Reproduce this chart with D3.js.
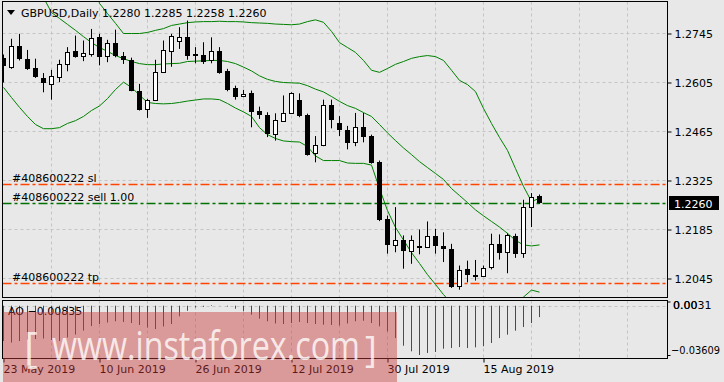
<!DOCTYPE html>
<html>
<head>
<meta charset="utf-8">
<script src="https://cdn.jsdelivr.net/npm/d3@7"></script>
<style>
  body { margin: 0; background: #e8e8e8; }
  svg { display: block; font-family: "DejaVu Sans", sans-serif; }
</style>
</head>
<body>
<svg id="chart" width="724" height="382"></svg>
<script>
'use strict';

// daily candles, GBPUSD, 23 May 2019 onwards
var opens = [1.2674,1.2649,1.2708,1.2673,1.2647,1.2618,1.2601,1.2622,1.2658,1.2694,
  1.2682,1.2687,1.2736,1.2682,1.2717,1.2682,1.2670,1.2582,1.2530,1.2554,
  1.2634,1.2696,1.2725,1.2734,1.2687,1.2685,1.2668,1.2694,1.2637,1.2588,
  1.2566,1.2576,1.2525,1.2511,1.2458,1.2496,1.2517,1.2554,1.2511,1.2404,
  1.2427,1.2541,1.2490,1.2470,1.2434,1.2479,1.2451,1.2377,1.2214,1.2142,
  1.2154,1.2123,1.2137,1.2134,1.2165,1.2139,1.2130,1.2023,1.2073,1.2056,
  1.2052,1.2077,1.2144,1.2120,1.2165,1.2118,1.2248,1.2280];
var highs = [1.2685,1.2730,1.2744,1.2698,1.2673,1.2632,1.2641,1.2670,1.2706,1.2739,
  1.2725,1.2758,1.2744,1.2727,1.2756,1.2692,1.2676,1.2601,1.2558,1.2670,
  1.2725,1.2744,1.2763,1.2782,1.2706,1.2720,1.2734,1.2706,1.2644,1.2596,
  1.2584,1.2582,1.2536,1.2520,1.2517,1.2568,1.2577,1.2574,1.2516,1.2452,
  1.2556,1.2556,1.2509,1.2481,1.2518,1.2518,1.2456,1.2382,1.2225,1.2249,
  1.2168,1.2168,1.2185,1.2208,1.2187,1.2177,1.2144,1.2082,1.2096,1.2098,
  1.2082,1.2173,1.2171,1.2174,1.2173,1.2270,1.2289,1.2285];
var lows = [1.2605,1.2644,1.2668,1.2641,1.2618,1.2577,1.2556,1.2606,1.2637,1.2676,
  1.2666,1.2679,1.2654,1.2663,1.2677,1.2658,1.2580,1.2525,1.2504,1.2552,
  1.2632,1.2650,1.2701,1.2670,1.2660,1.2658,1.2660,1.2630,1.2580,1.2556,
  1.2563,1.2477,1.2501,1.2449,1.2439,1.2494,1.2516,1.2506,1.2396,1.2377,
  1.2423,1.2474,1.2452,1.2414,1.2423,1.2434,1.2373,1.2209,1.2116,1.2120,
  1.2073,1.2087,1.2114,1.2132,1.2116,1.2092,1.2018,1.2013,1.2034,1.2039,
  1.2049,1.2071,1.2099,1.2060,1.2104,1.2104,1.2192,1.2258];
var closes = [1.2651,1.2708,1.2673,1.2644,1.2622,1.2603,1.2624,1.2658,1.2692,1.2677,
  1.2689,1.2733,1.2677,1.2717,1.2682,1.2668,1.2582,1.2527,1.2554,1.2634,
  1.2698,1.2739,1.2736,1.2682,1.2681,1.2663,1.2696,1.2632,1.2584,1.2565,
  1.2573,1.2520,1.2511,1.2458,1.2498,1.2517,1.2574,1.2508,1.2399,1.2427,
  1.2541,1.2498,1.2468,1.2432,1.2478,1.2449,1.2374,1.2211,1.2142,1.2154,
  1.2123,1.2156,1.2133,1.2165,1.2137,1.2128,1.2020,1.2070,1.2054,1.2049,
  1.2076,1.2144,1.2117,1.2168,1.2116,1.2249,1.2277,1.2260];

// bollinger bands
var bandUpper = [1.3231,1.3219,1.3214,1.3205,1.3199,1.3176,1.3136,1.3099,1.3054,1.3011,
  1.2965,1.2914,1.2831,1.2802,1.2774,1.2745,1.2745,1.2745,1.2748,1.2754,
  1.2759,1.2768,1.2772,1.2776,1.2778,1.2779,1.2779,1.2780,1.2779,1.2779,
  1.2778,1.2776,1.2775,1.2774,1.2772,1.2771,1.2770,1.2772,1.2779,1.2784,
  1.2777,1.2751,1.2719,1.2705,1.2691,1.2668,1.2640,1.2634,1.2645,1.2657,
  1.2665,1.2674,1.2679,1.2682,1.2679,1.2668,1.2640,1.2611,1.2599,1.2579,
  1.2531,1.2488,1.2448,1.2411,1.2359,1.2308,1.2265,1.2274];
var bandMiddle = [1.2965,1.2942,1.2919,1.2896,1.2874,1.2848,1.2805,1.2788,1.2771,1.2754,
  1.2736,1.2719,1.2705,1.2694,1.2682,1.2673,1.2665,1.2659,1.2656,1.2656,
  1.2658,1.2659,1.2660,1.2665,1.2666,1.2667,1.2668,1.2668,1.2665,1.2659,
  1.2649,1.2638,1.2624,1.2614,1.2608,1.2605,1.2604,1.2603,1.2596,1.2586,
  1.2578,1.2565,1.2551,1.2539,1.2531,1.2519,1.2508,1.2485,1.2461,1.2439,
  1.2418,1.2399,1.2379,1.2362,1.2345,1.2328,1.2302,1.2282,1.2262,1.2241,
  1.2224,1.2208,1.2192,1.2174,1.2154,1.2141,1.2138,1.2141];
var bandLower = [1.2591,1.2562,1.2534,1.2508,1.2485,1.2473,1.2473,1.2476,1.2488,1.2496,
  1.2508,1.2525,1.2538,1.2559,1.2585,1.2606,1.2591,1.2569,1.2548,1.2545,
  1.2544,1.2545,1.2548,1.2552,1.2555,1.2558,1.2558,1.2556,1.2545,1.2532,
  1.2521,1.2508,1.2476,1.2456,1.2445,1.2438,1.2436,1.2435,1.2422,1.2395,
  1.2382,1.2382,1.2382,1.2375,1.2374,1.2374,1.2369,1.2302,1.2239,1.2191,
  1.2155,1.2119,1.2088,1.2056,1.2028,1.1999,1.1974,1.1954,1.1939,1.1931,
  1.1931,1.1936,1.1948,1.1965,1.1979,1.1992,1.2012,1.2006];

// awesome oscillator
var aoValues = [-0.0259,-0.0270,-0.0259,-0.0248,-0.0244,-0.0240,-0.0251,-0.0259,-0.0233,-0.0211,
  -0.0182,-0.0149,-0.0134,-0.0123,-0.0114,-0.0119,-0.0127,-0.0141,-0.0160,-0.0171,
  -0.0152,-0.0134,-0.0078,-0.0037,-0.0013,-0.0008,0.0005,0.0001,-0.0006,-0.0022,
  -0.0041,-0.0066,-0.0095,-0.0114,-0.0130,-0.0134,-0.0127,-0.0119,-0.0127,-0.0134,
  -0.0139,-0.0141,-0.0145,-0.0130,-0.0114,-0.0110,-0.0127,-0.0151,-0.0188,-0.0237,
  -0.0293,-0.0334,-0.03609,-0.0346,-0.0339,-0.0315,-0.0310,-0.0303,-0.0310,-0.0305,
  -0.0297,-0.0273,-0.0237,-0.0212,-0.0183,-0.0156,-0.0127,-0.00835];
var aoMax = 0.0031, aoMin = -0.03609;

var priceTicks = [1.2745, 1.2605, 1.2465, 1.2325, 1.2185, 1.2045];
var dateIdx = [0, 12, 24, 36, 48, 60];
var dateLabels = ['23 May 2019', '10 Jun 2019', '26 Jun 2019', '12 Jul 2019', '30 Jul 2019', '15 Aug 2019'];

var orderId = '#408600222';
var slPrice = 1.2314, sellPrice = 1.2260, tpPrice = 1.2033;

var svg = d3.select('#chart');
var L = 2.5, R = 667.5, mainTop = 1.5, mainBot = 297.5, aoTop = 300.5, aoBot = 358.5;

var x = d3.scaleLinear().domain([0, 67]).range([3.5, 539.5]);
var y = d3.scaleLinear().domain([1.2745, 1.2045]).range([33.5, 278.5]);
var yAo = d3.scaleLinear().domain([aoMin, aoMax]).range([355, 301.5]);

var defs = svg.append('defs');
defs.append('clipPath').attr('id', 'clipMain').append('rect')
  .attr('x', 3).attr('y', 2).attr('width', R - 3).attr('height', mainBot - 2);
defs.append('clipPath').attr('id', 'clipAo').append('rect')
  .attr('x', 3).attr('y', aoTop + 0.5).attr('width', R - 3).attr('height', aoBot - aoTop - 1);

// grid
var gridX = d3.range(6, 84, 6).filter(function(i){ return x(i) < R; });
var grid = svg.append('g').attr('stroke', '#c4c4c4').attr('stroke-dasharray', '3,3');
grid.selectAll('.gx').data(gridX).enter().append('line')
  .attr('x1', function(d){ return x(d); }).attr('x2', function(d){ return x(d); })
  .attr('y1', mainTop).attr('y2', mainBot);
grid.selectAll('.ga').data(gridX).enter().append('line')
  .attr('x1', function(d){ return x(d); }).attr('x2', function(d){ return x(d); })
  .attr('y1', aoTop).attr('y2', aoBot);
grid.selectAll('.gy').data(priceTicks).enter().append('line')
  .attr('x1', L).attr('x2', R)
  .attr('y1', function(d){ return y(d); }).attr('y2', function(d){ return y(d); });
grid.append('line').attr('x1', L).attr('x2', R)
  .attr('y1', Math.round(yAo(0)) + 0.5).attr('y2', Math.round(yAo(0)) + 0.5);

// order lines
var orders = [
  {p: slPrice, label: orderId + ' sl', color: '#ff4500'},
  {p: sellPrice, label: orderId + ' sell 1.00', color: '#007000'},
  {p: tpPrice, label: orderId + ' tp', color: '#ff4500'}
];
var og = svg.append('g');
og.selectAll('line').data(orders).enter().append('line')
  .attr('x1', L).attr('x2', R)
  .attr('y1', function(d){ return Math.round(y(d.p)) + 0.5; })
  .attr('y2', function(d){ return Math.round(y(d.p)) + 0.5; })
  .attr('stroke', function(d){ return d.color; })
  .attr('stroke-width', 1.4)
  .attr('stroke-dasharray', '9,3,3,3');
og.selectAll('text').data(orders).enter().append('text')
  .attr('x', 12).attr('y', function(d){ return Math.round(y(d.p)) - 2.5; })
  .attr('font-size', 11).attr('fill', '#000')
  .text(function(d){ return d.label; });

// bollinger bands
var line = d3.line().x(function(d, i){ return x(i); }).y(function(d){ return y(d); });
svg.append('g').attr('clip-path', 'url(#clipMain)')
  .selectAll('path').data([bandUpper, bandMiddle, bandLower]).enter().append('path')
  .attr('d', line).attr('fill', 'none').attr('stroke', '#008000').attr('stroke-width', 1);

// candles
var candles = opens.map(function(o, i){
  return {i: i, o: o, h: highs[i], l: lows[i], c: closes[i]};
});
var cg = svg.append('g').attr('clip-path', 'url(#clipMain)');
var cs = cg.selectAll('g').data(candles).enter().append('g');
cs.append('line')
  .attr('x1', function(d){ return x(d.i); }).attr('x2', function(d){ return x(d.i); })
  .attr('y1', function(d){ return y(d.h); }).attr('y2', function(d){ return y(d.l); })
  .attr('stroke', '#000');
cs.append('rect')
  .attr('x', function(d){ return d.c >= d.o ? x(d.i) - 2 : x(d.i) - 2.5; })
  .attr('width', function(d){ return d.c >= d.o ? 4 : 5; })
  .attr('y', function(d){ return Math.round(y(Math.max(d.o, d.c))) + (d.c >= d.o ? 0.5 : 0); })
  .attr('height', function(d){
    return Math.max(1, Math.round(y(Math.min(d.o, d.c))) - Math.round(y(Math.max(d.o, d.c))));
  })
  .attr('fill', function(d){ return d.c >= d.o ? '#fff' : '#000'; })
  .attr('stroke', function(d){ return d.c >= d.o ? '#000' : 'none'; });

// AO histogram
svg.append('g').attr('clip-path', 'url(#clipAo)')
  .selectAll('line').data(aoValues).enter().append('line')
  .attr('x1', function(d, i){ return x(i); }).attr('x2', function(d, i){ return x(i); })
  .attr('y1', yAo(0)).attr('y2', function(d){ return yAo(d); })
  .attr('stroke', function(d, i){ return i > 0 && d > aoValues[i - 1] ? '#008000' : '#ff0000'; });

// panel borders
svg.append('rect').attr('x', L).attr('y', mainTop).attr('width', R - L).attr('height', mainBot - mainTop)
  .attr('fill', 'none').attr('stroke', '#000');
svg.append('rect').attr('x', L).attr('y', aoTop).attr('width', R - L).attr('height', aoBot - aoTop)
  .attr('fill', 'none').attr('stroke', '#000');

// price axis
var yAxis = d3.axisRight(y).tickValues(priceTicks).tickSize(4).tickFormat(d3.format('.4f'));
var ya = svg.append('g').attr('transform', 'translate(' + R + ',0)').call(yAxis);
ya.select('.domain').remove();
ya.selectAll('text').attr('font-family', '"DejaVu Sans", sans-serif').attr('font-size', 11).attr('fill', '#000');

// current price tag
var lastClose = closes[closes.length - 1];
svg.append('rect').attr('x', 669).attr('y', Math.round(y(lastClose)) - 7).attr('width', 50).attr('height', 14).attr('fill', '#000');
svg.append('text').attr('x', 674).attr('y', Math.round(y(lastClose)) + 4.5)
  .attr('font-size', 11).attr('fill', '#fff').text(d3.format('.4f')(lastClose));

// AO axis
var aoAxis = d3.axisRight(yAo).tickValues([aoMax, aoMin]).tickSize(3).tickFormat(function(){ return ''; });
var aa = svg.append('g').attr('transform', 'translate(' + R + ',0)').call(aoAxis);
aa.select('.domain').remove();
svg.append('text').attr('x', 673).attr('y', 309).attr('font-size', 11).text('0.00');
svg.append('text').attr('x', 673).attr('y', 309).attr('font-size', 11).text(d3.format('.4f')(aoMax));
svg.append('text').attr('x', 671).attr('y', 354).attr('font-size', 11)
  .attr('textLength', 49).attr('lengthAdjust', 'spacingAndGlyphs').text(d3.format('.5f')(aoMin));

// date axis
var xAxis = d3.axisBottom(x).tickValues(dateIdx).tickSize(4)
  .tickFormat(function(d, i){ return dateLabels[i]; });
var xa = svg.append('g').attr('transform', 'translate(0,' + aoBot + ')').call(xAxis);
xa.select('.domain').remove();
xa.selectAll('text').attr('text-anchor', 'start').attr('dx', -0.5)
  .attr('font-family', '"DejaVu Sans", sans-serif').attr('font-size', 11).attr('fill', '#000');

// titles
svg.append('path').attr('d', 'M7,10L15,10L11,15Z').attr('fill', '#000');
var last = opens.length - 1;
var f4 = d3.format('.4f');
svg.append('text').attr('x', 21).attr('y', 17).attr('font-size', 11)
  .text('GBPUSD,Daily  ' + [opens[last], highs[last], lows[last], closes[last]].map(f4).join(' '));
svg.append('text').attr('x', 8).attr('y', 315).attr('font-size', 11)
  .text('AO ' + d3.format('.5f')(aoValues[aoValues.length - 1]));

// watermark
var wm = svg.append('g');
wm.append('rect').attr('x', 3).attr('y', 312).attr('width', 394).attr('height', 70)
  .attr('fill', 'rgba(205,60,60,0.45)');
var wt = wm.append('g').attr('font-family', '"Open Sans", sans-serif').attr('fill', '#fff').attr('fill-opacity', 0.8);
wt.append('text').attr('x', 24).attr('y', 362).attr('font-size', 42).text('[');
wt.append('text').attr('x', 52).attr('y', 360).attr('font-size', 40)
  .attr('textLength', 308).attr('lengthAdjust', 'spacingAndGlyphs').text('www.instaforex.com');
wt.append('text').attr('x', 365).attr('y', 362).attr('font-size', 36).text(']');
</script>
</body>
</html>
